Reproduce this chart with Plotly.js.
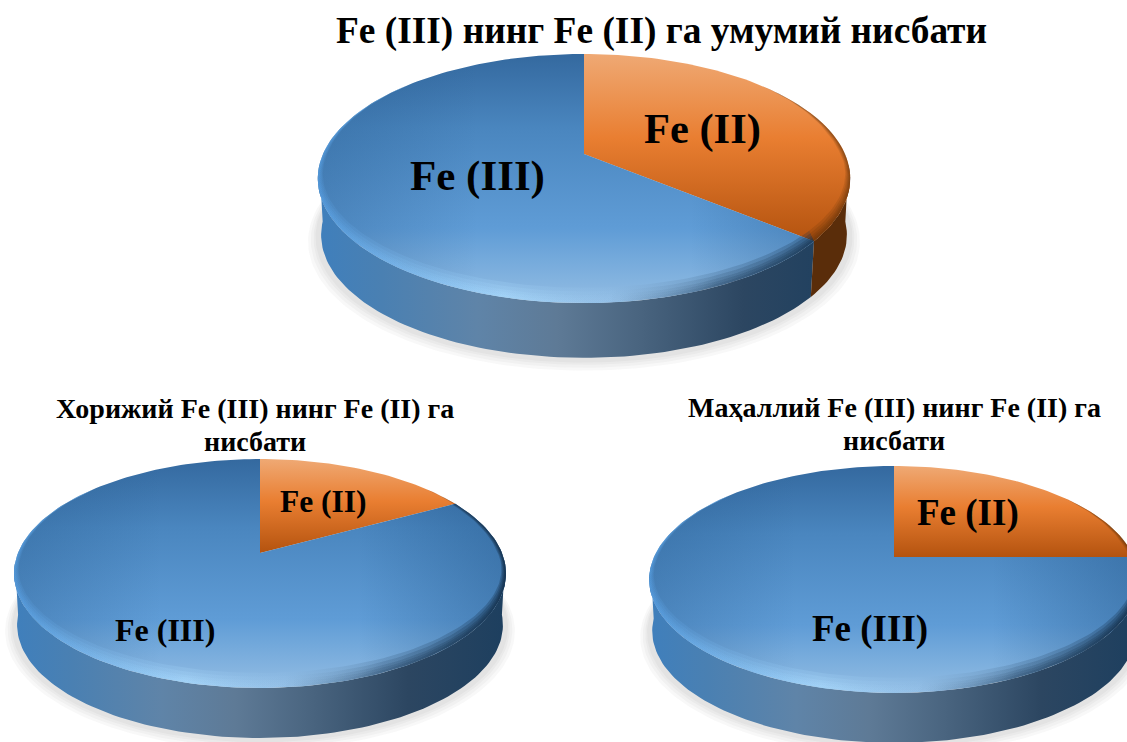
<!DOCTYPE html>
<html>
<head>
<meta charset="utf-8">
<script src="https://cdn.plot.ly/plotly-3.0.1.min.js"></script>
<style>html,body{margin:0;padding:0;background:#fff}#chart{width:1127px;height:742px}</style>
</head>
<body>
<div id="chart"></div>
<script>
// Iron oxidation-state shares, in percent
const categories = ['Fe (II)', 'Fe (III)'];
const overallShares = [36, 64];
const foreignShares = [17, 83];
const localShares = [25, 75];

const mainTitle = 'Fe (III) нинг Fe (II) га умумий нисбати';
const foreignTitle = ['Хорижий Fe (III) нинг Fe (II) га', 'нисбати'];
const localTitle = ['Маҳаллий Fe (III) нинг Fe (II) га', 'нисбати'];

// Tilted disc geometry of each pie: centre, radius, foreshortening, wall depth
const overallDisc = {cx: 584, cy: 154, R: 261, S: 119.7, k: 0.197, depth: 57};
const foreignDisc = {cx: 260, cy: 553, R: 242, S: 110.8, k: 0.179, depth: 52};
const localDisc = {cx: 894, cy: 557, R: 240, S: 109, k: 0.198, depth: 52};

const serif = '"Liberation Serif", "Times New Roman", serif';
const wallBlue = [[0, '#3f7fbc'], [0.12, '#4a80b2'], [0.3, '#5f84a8'], [0.45, '#5e7a96'],
                  [0.6, '#4a6580'], [0.8, '#2c4661'], [1, '#1d3f5f']];
const faceBlue = [[0, '#34699f'], [0.3, '#4a86bf'], [0.7, '#5f9cd6'], [1, '#93bde3']];
const faceOrange = [[0, '#efa974'], [0.45, '#e97e31'], [1, '#b4530f']];
const rimGlow = [[0, 'rgba(90,165,235,0.16)'], [0.35, 'rgba(170,220,255,0.2)'], [0.55, 'rgba(150,195,235,0.12)'],
                 [0.75, 'rgba(30,60,90,0.16)'], [1, 'rgba(15,40,65,0.3)']];
const sideShade = [[0, 'rgba(30,80,130,0.3)'], [0.3, 'rgba(30,80,130,0)'],
                   [0.7, 'rgba(30,80,130,0)'], [1, 'rgba(30,80,130,0.4)']];
const rimLayers = [[12, 0.982], [9, 0.986], [6, 0.99], [4, 0.993], [2, 0.996]];

const rad = d => d * Math.PI / 180;

function project(disc, theta, r) {
  const u = r * Math.sin(rad(theta));
  const v = r * Math.cos(rad(theta));
  const w = 1 + disc.k * v;
  return [disc.cx + disc.R * u / w, disc.cy - disc.S * v / w];
}

function arc(disc, a0, a1, r, dy) {
  const n = Math.max(2, Math.ceil(Math.abs(a1 - a0) / 1.5));
  const pts = [];
  for (let i = 0; i <= n; i++) {
    const p = project(disc, a0 + (a1 - a0) * i / n, r);
    pts.push([p[0], p[1] + (dy || 0)]);
  }
  return pts;
}

// Inner edge of a rim layer: widest at the front, thinning towards the tapered ends
function rimEdgeArc(disc, a0, a1, r0, lift, taperStart, taperEnd) {
  const n = Math.max(2, Math.ceil((a1 - a0) / 1.5));
  const pts = [];
  for (let i = n; i >= 0; i--) {
    const a = a0 + (a1 - a0) * i / n;
    let t = 1;
    if (taperStart) t = Math.min(t, (a - a0) / taperStart);
    if (taperEnd) t = Math.min(t, (a1 - a) / taperEnd);
    const p = project(disc, a, 1 - (1 - r0) * t);
    const front = Math.pow(Math.max(0, -Math.cos(rad(a))), 0.7);
    pts.push([p[0], p[1] - lift * front]);
  }
  return pts;
}

function polygon(pts, gradient, flat) {
  const t = {
    x: pts.map(p => p[0]), y: pts.map(p => p[1]),
    mode: 'lines', line: {width: 0}, fill: 'toself',
    hoverinfo: 'skip', showlegend: false
  };
  if (flat) t.fillcolor = flat; else t.fillgradient = gradient;
  return t;
}

function grad(type, colorscale, start, stop) {
  return {type, colorscale, start, stop};
}

function drawPie(disc, shares) {
  const traces = [];
  const total = shares[0] + shares[1];
  const split = 360 * shares[0] / total;
  const left = disc.cx - disc.R * 1.02, right = disc.cx + disc.R * 1.02;

  // Soft shadow under the disc
  [[1.035, 4], [1.025, 3], [1.015, 2], [1.008, 1]].forEach(s => {
    const ring = arc(disc, 0, 360, s[0], disc.depth + s[1]);
    traces.push(polygon(ring, null, 'rgba(60,60,60,0.035)'));
  });

  // Side wall, only the part that faces the viewer; its foot sits slightly inwards
  const front0 = 95, front1 = 265;
  const wall = (a0, a1, g, flat) => {
    if (a1 <= a0) return;
    traces.push(polygon(arc(disc, a0, a1, 1).concat(arc(disc, a1, a0, 0.988, disc.depth)), g, flat));
  };
  wall(Math.max(front0, split), front1, grad('horizontal', wallBlue, left, right));
  wall(front0, Math.min(front1, split), null, '#5a2d0a');

  // Top faces of both slices
  const orangePts = [project(disc, 0, 0)].concat(arc(disc, 0, split, 1));
  const ys = orangePts.map(p => p[1]);
  traces.push(polygon(orangePts, grad('vertical', faceOrange, Math.min(...ys), Math.max(...ys))));

  const bluePts = [project(disc, 0, 0)].concat(arc(disc, split, 360, 1));
  const top = project(disc, 0, 1)[1], bottom = project(disc, 180, 1)[1];
  traces.push(polygon(bluePts, grad('vertical', faceBlue, top, bottom)));
  traces.push(polygon(bluePts, grad('horizontal', sideShade, left, right)));

  // Soft bevel along the front edge, built from thin stacked layers
  const b0 = Math.max(50, split);
  rimLayers.forEach(layer => {
    const outer = arc(disc, b0, 310, 1);
    const inner = rimEdgeArc(disc, b0, 310, layer[1], layer[0], 0, 45);
    traces.push(polygon(outer.concat(inner), grad('horizontal', rimGlow, left, right)));
    if (split > 50) {
      const oa = arc(disc, 50, split, 1);
      const ob = rimEdgeArc(disc, 50, split, layer[1], layer[0], 30, 0);
      traces.push(polygon(oa.concat(ob), null, 'rgba(70,35,8,0.13)'));
    }
  });
  return traces;
}

const data = [
  ...drawPie(overallDisc, overallShares),
  ...drawPie(foreignDisc, foreignShares),
  ...drawPie(localDisc, localShares)
];

function label(text, x, y, size) {
  return {
    text, x, y, xref: 'x', yref: 'y', showarrow: false, xanchor: 'center', yanchor: 'middle',
    font: {family: serif, size, color: '#000', weight: 700}
  };
}

const layout = {
  width: 1127, height: 742,
  margin: {l: 0, r: 0, t: 0, b: 0},
  paper_bgcolor: '#fff', plot_bgcolor: '#fff',
  showlegend: false,
  title: {
    text: mainTitle, x: 661.5 / 1127, xanchor: 'center', y: 1 - 30 / 742, yanchor: 'middle',
    font: {family: serif, size: 37.4, color: '#000', weight: 700}
  },
  xaxis: {range: [0, 1127], visible: false, fixedrange: true},
  yaxis: {range: [742, 0], visible: false, fixedrange: true},
  annotations: [
    label(categories[1], 477, 176, 43),
    label(categories[0], 702, 129, 42.5),
    label(foreignTitle[0], 255, 408, 28),
    label(foreignTitle[1], 255, 441, 28),
    label(localTitle[0], 894, 407, 28),
    label(localTitle[1], 894, 440, 28),
    label(categories[0], 323, 501, 31.5),
    label(categories[1], 165, 630, 32),
    label(categories[0], 968, 513, 37),
    label(categories[1], 870, 629, 37)
  ]
};

Plotly.newPlot('chart', data, layout, {displayModeBar: false, staticPlot: true});
</script>
</body>
</html>
